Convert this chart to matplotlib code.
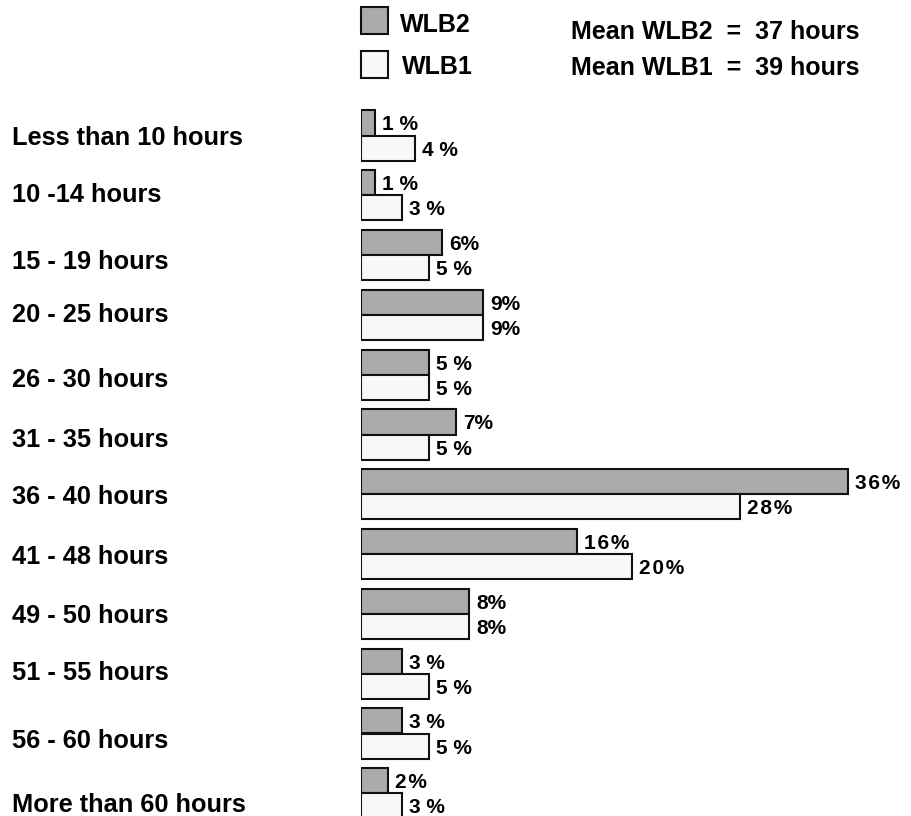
import matplotlib
matplotlib.use("Agg")
import matplotlib.pyplot as plt
from matplotlib.patches import Rectangle

plt.rcParams['font.family'] = ['Liberation Sans', 'DejaVu Sans']
plt.rcParams['font.weight'] = 'bold'

categories = ["Less than 10 hours", "10 -14 hours", "15 - 19 hours", "20 - 25 hours",
              "26 - 30 hours", "31 - 35 hours", "36 - 40 hours", "41 - 48 hours",
              "49 - 50 hours", "51 - 55 hours", "56 - 60 hours", "More than 60 hours"]
wlb2 = [1, 1, 6, 9, 5, 7, 36, 16, 8, 3, 3, 2]
wlb1 = [4, 3, 5, 9, 5, 5, 28, 20, 8, 5, 5, 3]
wlb2_labels = ["1 %", "1 %", "6%", "9%", "5 %", "7%", "3\u200a6\u200a%", "1\u200a6\u200a%",
               "8%", "3 %", "3 %", "2\u200a%"]
wlb1_labels = ["4 %", "3 %", "5 %", "9%", "5 %", "5 %", "2\u200a8\u200a%", "2\u200a0\u200a%",
               "8%", "5 %", "5 %", "3 %"]
series_names = ["WLB2", "WLB1"]
means = [37, 39]

# layout (pixels): baseline offset of each category label below its group centre
label_baseline_px = [9.5, 6.7, 13.8, 7.2, 12.5, 12, 10, 10, 9.5, 6, 14.5, 19]

GRAY = "#ababab"
WHITE = "#f8f8f8"

W, H = 911, 816
fig = plt.figure(figsize=(W / 100, H / 100), dpi=100)

left_px, px_per_pct = 361, 13.53
pitch, first_center = 59.8, 135.5
top_px = first_center - 0.5 * pitch
bottom_px = top_px + 12 * pitch
xmax = 40
ax = fig.add_axes([left_px / W, 1 - bottom_px / H, xmax * px_per_pct / W, (bottom_px - top_px) / H])
ax.set_xlim(0, xmax)
ax.set_ylim(11.5, -0.5)

bh = 0.42
ys = list(range(len(categories)))
ax.barh([y - bh / 2 for y in ys], wlb2, height=bh, color=GRAY, edgecolor="#111111", linewidth=1.5)
ax.barh([y + bh / 2 for y in ys], wlb1, height=bh, color=WHITE, edgecolor="#111111", linewidth=1.5)

VFS = 15
for y, v, lab in zip(ys, wlb2, wlb2_labels):
    ax.annotate(lab, (v, y - bh / 2), xytext=(7, 0), textcoords="offset pixels",
                ha="left", va="center_baseline", fontsize=VFS, fontweight="bold")
for y, v, lab in zip(ys, wlb1, wlb1_labels):
    ax.annotate(lab, (v, y + bh / 2), xytext=(7, 0), textcoords="offset pixels",
                ha="left", va="center_baseline", fontsize=VFS, fontweight="bold")

for y, cat, off in zip(ys, categories, label_baseline_px):
    ax.annotate(cat, (12 / W, y), xycoords=("figure fraction", "data"),
                xytext=(0, -off), textcoords="offset pixels",
                ha="left", va="baseline", fontsize=18.3, fontweight="bold")

ax.set_xticks([])
ax.set_yticks([])
for s in ax.spines.values():
    s.set_visible(False)
ax.patch.set_visible(False)

# legend
sq = 27
sq_tops = [7, 51]
name_base = [31.5, 74]
mean_base = [39, 75]
for i, (name, col) in enumerate(zip(series_names, [GRAY, WHITE])):
    fig.patches.append(Rectangle((361 / W, 1 - (sq_tops[i] + sq) / H), sq / W, sq / H,
                                 transform=fig.transFigure, facecolor=col,
                                 edgecolor="#111111", linewidth=1.5))
    fig.text((400 + 2 * i) / W, 1 - name_base[i] / H, name, ha="left", va="baseline",
             fontsize=18, fontweight="bold")
    fig.text(571 / W, 1 - mean_base[i] / H, f"Mean {name}  =  {means[i]} hours",
             ha="left", va="baseline", fontsize=18, fontweight="bold")

fig.savefig("out.png", dpi=100)
